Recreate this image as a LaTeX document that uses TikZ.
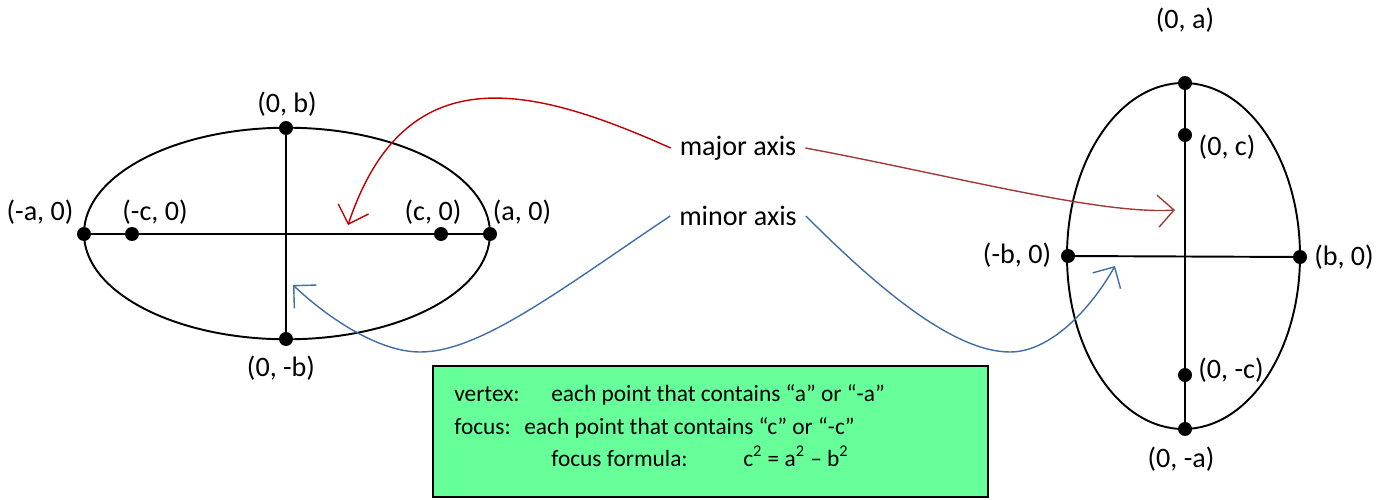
\documentclass[tikz,border=0pt]{standalone}
\usepackage{fontspec}
\setmainfont{Carlito}
\usepackage{tikz}
\usetikzlibrary{arrows.meta}

\definecolor{redline}{RGB}{192,0,0}
\definecolor{brownline}{RGB}{160,60,55}
\definecolor{blueline}{RGB}{65,110,165}
\definecolor{boxgreen}{RGB}{102,255,153}

\begin{document}
\begin{tikzpicture}[
        x=0.02cm, y=-0.02cm,
        every node/.style={font=\fontsize{16}{19}\selectfont},
        dot/.style={
            circle,
            fill=black,
            inner sep=0pt,
            minimum size=0.28cm
        },
        lbl/.style={
            inner sep=1pt
        },
        axisline/.style={line width=1.1pt},
        curve/.style={line width=1.1pt},
        infobox/.style={
            draw,
            line width=1.1pt,
            fill=boxgreen,
            minimum width=11.1cm,
            minimum height=2.62cm
        },
        info/.style={
            anchor=base west,
            inner sep=0pt,
            font=\fontsize{13.3}{16}\selectfont
        },
        arrow/.style={-{Straight Barb[length=3.2mm,width=6.4mm]}, line width=0.8pt}
    ]
    \useasboundingbox (0,0) rectangle (1383,500);

    % Horizontal ellipse
    \draw[curve] (287,233.5) ellipse [x radius=203, y radius=105.8];
    \node[dot] (lefta)  at (84,234) {};
    \node[dot] (leftc)  at (132,234) {};
    \node[dot] (rightc) at (441,234) {};
    \node[dot] (righta) at (490,234) {};
    \node[dot] (topb)   at (286,128) {};
    \node[dot] (botb)   at (286,339) {};
    \draw[axisline] (lefta.center) -- (righta.center);
    \draw[axisline] (topb.center) -- (botb.center);

    \node[lbl] at (287,104) {(0, b)};
    \node[lbl] at (40,212) {(-a, 0)};
    \node[lbl] at (155,212) {(-c, 0)};
    \node[lbl] at (433,212) {(c, 0)};
    \node[lbl] at (522,212) {(a, 0)};
    \node[lbl] at (281,368) {(0, -b)};

    % Vertical ellipse
    \draw[curve] (1183.5,256) ellipse [x radius=116.5, y radius=173];
    \node[dot] (topa) at (1185,83) {};
    \node[dot] (topc) at (1185,135) {};
    \node[dot] (leftb) at (1068,256) {};
    \node[dot] (rightb) at (1300,257) {};
    \node[dot] (botc) at (1185,375) {};
    \node[dot] (bota) at (1185,429) {};
    \draw[axisline] (topa.center) -- (bota.center);
    \draw[axisline] (leftb.center) -- (rightb.center);

    \node[lbl] at (1185,20) {(0, a)};
    \node[lbl] at (1227,147) {(0, c)};
    \node[lbl] at (1017,255) {(-b, 0)};
    \node[lbl] at (1344,257) {(b, 0)};
    \node[lbl] at (1231,370) {(0, -c)};
    \node[lbl] at (1181,459) {(0, -a)};

    % Axis names
    \node[lbl, inner sep=5pt] (major) at (738,148) {major axis};
    \node[lbl, inner sep=5pt] (minor) at (738,216) {minor axis};
    \coordinate (majorleft) at (348,225);
    \coordinate (majorright) at (1175,210);
    \coordinate (minorleft) at (293,285);
    \coordinate (minorright) at (1115,266);

    % Arrows
    \draw[arrow, redline] (major.west) .. controls (530,85) and (405,55) .. (majorleft);
    \draw[arrow, brownline] (major.east) .. controls (950,175) and (1100,215) .. (majorright);
    \draw[arrow, blueline] (minor.west) .. controls (560,290) and (480,352) .. (420,352)
        .. controls (380,352) and (330,320) .. (minorleft);
    \draw[arrow, blueline] (minor.east) .. controls (870,280) and (950,352) .. (1010,352)
        .. controls (1050,352) and (1090,310) .. (minorright);

    % Definitions box
    \node[infobox] (defbox) at (710.5,431.5) {};
    \node[info] (vtxname) at (454,401.5) {vertex:};
    \node[info] (vtxtext) at (551,401.5) {each point that contains “a” or “-a”};
    \node[info] (focname) at (454,434.5) {focus:};
    \node[info] (foctext) at (524,434.5) {each point that contains “c” or “-c”};
    \node[info] (formname) at (551,466) {focus formula:};
    \node[info] (formtext) at (743,466) {c\textsuperscript{2} = a\textsuperscript{2} – b\textsuperscript{2}};

    \end{tikzpicture}
\end{document}
